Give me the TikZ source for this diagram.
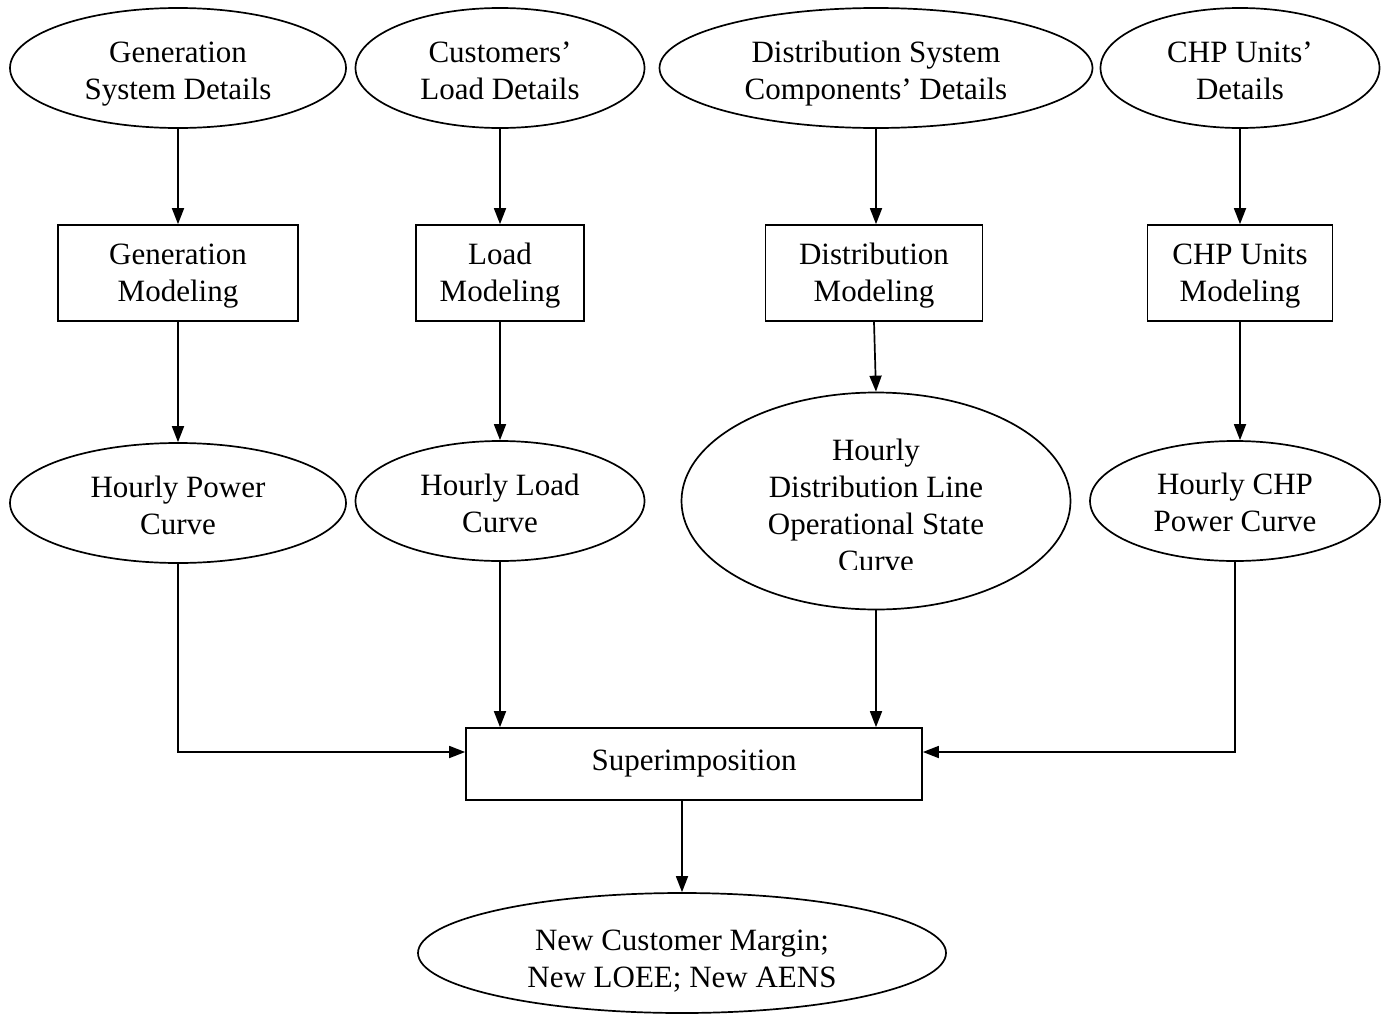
\documentclass[tikz,border=0pt]{standalone}
\usepackage{fontspec}
\setmainfont{Liberation Serif}
\usetikzlibrary{shapes.geometric,arrows.meta}
\begin{document}
\begin{tikzpicture}[x=1pt,y=-1pt,
  every node/.style={font=\fontsize{31}{37}\selectfont, align=center, inner sep=0pt, line width=1.7pt},
  ell/.style={draw, ellipse},
  box/.style={draw, rectangle},
  conn/.style={line width=1.7pt, -{Triangle[length=16pt,width=12pt]}}
]
\useasboundingbox (0,0) rectangle (1387,1015);
% top row
\node[ell, minimum width=336, minimum height=120] (e1) at (178,68) {};
\node[yshift=-6pt] (t1) at (e1) {Generation\\System Details};
\node[ell, minimum width=289, minimum height=120] (e2) at (500,68) {};
\node[yshift=-3pt] (t2) at (e2) {Customers’\\Load Details};
\node[ell, minimum width=433, minimum height=120] (e3) at (876,68) {};
\node[yshift=-6pt] (t3) at (e3) {Distribution System\\Components’ Details};
\node[ell, minimum width=279, minimum height=120] (e4) at (1240,68) {};
\node[yshift=-3pt] (t4) at (e4) {CHP Units’\\Details};
% boxes
\node[box, minimum width=240, minimum height=96] (b1) at (178,273) {};
\node[yshift=-3pt] (t5) at (b1) {Generation\\Modeling};
\node[box, minimum width=168, minimum height=96] (b2) at (500,273) {};
\node[yshift=-3pt] (t6) at (b2) {Load\\Modeling};
\node[box, minimum width=217, minimum height=96] (b3) at (874,273) {};
\node[yshift=-3pt] (t7) at (b3) {Distribution\\Modeling};
\node[box, minimum width=185, minimum height=96] (b4) at (1240,273) {};
\node[yshift=-3pt] (t8) at (b4) {CHP Units\\Modeling};
% third row
\node[ell, minimum width=336, minimum height=120] (e5) at (178,503) {};
\node[yshift=-2pt] (t9) at (e5) {Hourly Power\\Curve};
\node[ell, minimum width=289, minimum height=120] (e6) at (500,501) {};
\node[yshift=-2pt] (t10) at (e6) {Hourly Load\\Curve};
\node[ell, minimum width=389, minimum height=217] (e7) at (876,501) {};
\begin{scope}
\clip (690,395) rectangle (1060,569);
\node[yshift=-4pt] (t11) at (e7) {Hourly\\Distribution Line\\Operational State\\Curve};
\end{scope}
\node[ell, minimum width=290, minimum height=120] (e8) at (1235,501) {};
\node[yshift=-1pt] (t12) at (e8) {Hourly CHP\\Power Curve};
% superimposition
\node[box, minimum width=456, minimum height=72] (sup) at (694,764) {};
\node (t13) at (sup) {Superimposition};
\node[ell, minimum width=528, minimum height=120] (fin) at (682,953) {};
\node[yshift=-8pt] (t14) at (fin) {New Customer Margin;\\New LOEE; New AENS};
% connectors
\draw[conn] (e1.south) -- (b1.north);
\draw[conn] (e2.south) -- (b2.north);
\draw[conn] (e3.south) -- (e3.south |- b3.north);
\draw[conn] (e4.south) -- (b4.north);
\draw[conn] (b1.south) -- (e5.north);
\draw[conn] (b2.south) -- (e6.north);
\draw[conn] (b3.south) -- (e7.north);
\draw[conn] (b4.south -| e4.south) -- (e8.north -| e4.south);
\draw[conn] (e5.south) |- ([yshift=12pt]sup.west);
\draw[conn] (e6.south) -- (e6.south |- sup.north);
\draw[conn] (e7.south) -- (e7.south |- sup.north);
\draw[conn] (e8.south) |- ([yshift=12pt]sup.east);
\draw[conn] (sup.south -| fin.north) -- (fin.north);
\end{tikzpicture}
\end{document}
